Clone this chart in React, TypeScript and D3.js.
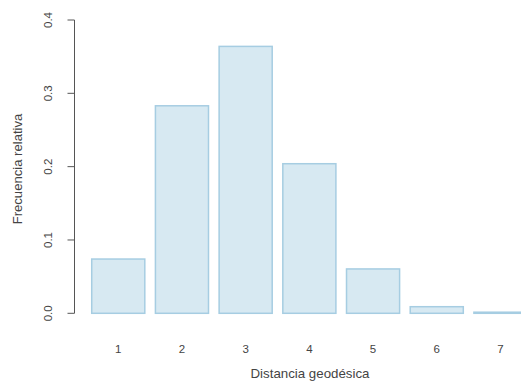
import React from "react";
import * as d3 from "d3";

const categories = ["1", "2", "3", "4", "5", "6", "7"];
const values = [0.074, 0.283, 0.364, 0.204, 0.0605, 0.009, 0.0015];
const yTicks = [0, 0.1, 0.2, 0.3, 0.4];
const yTickLabels = ["0.0", "0.1", "0.2", "0.3", "0.4"];
const xTitle = "Distancia geodésica";
const yTitle = "Frecuencia relativa";

const W = 521;
const H = 382;
const SPACE = 0.2;
const BARW = 1;

export default function App() {
  const x = d3.scaleLinear().domain([0, 8.4]).range([81.1, 527]);
  const y = d3.scaleLinear().domain([0, 0.4]).range([313.3, 20]);
  const font = "'Liberation Sans', Arial, Helvetica, sans-serif";
  const axisX = 74.5;
  return (
    <svg width={W} height={H} style={{ position: "absolute", left: 0, top: 0 }}>
      <rect width={W} height={H} fill="#fff" />
      {values.map((v, i) => {
        const l = x(SPACE + i * (BARW + SPACE));
        const r = x(SPACE + i * (BARW + SPACE) + BARW);
        return (
          <rect
            key={i}
            x={l}
            y={y(v)}
            width={r - l}
            height={y(0) - y(v)}
            fill="#d7e9f2"
            stroke="#a6cde2"
            strokeWidth={1.5}
          />
        );
      })}
      <line x1={axisX} x2={axisX} y1={y(0)} y2={y(0.4)} stroke="#555" strokeWidth={1} />
      {yTicks.map((t, i) => (
        <g key={i}>
          <line x1={axisX - 7} x2={axisX} y1={y(t)} y2={y(t)} stroke="#555" strokeWidth={1} />
          <text
            transform={`translate(52,${y(t)}) rotate(-90)`}
            textAnchor="middle"
            fontFamily={font}
            fontSize={11.5}
            fill="#444"
          >
            {yTickLabels[i]}
          </text>
        </g>
      ))}
      {categories.map((c, i) => (
        <text
          key={c}
          x={x(SPACE + i * (BARW + SPACE) + BARW / 2)}
          y={353}
          textAnchor="middle"
          fontFamily={font}
          fontSize={11.5}
          fill="#444"
        >
          {c}
        </text>
      ))}
      <text x={310} y={378} textAnchor="middle" fontFamily={font} fontSize={13.3} fill="#444">
        {xTitle}
      </text>
      <text
        transform={`translate(21.5,169) rotate(-90)`}
        textAnchor="middle"
        fontFamily={font}
        fontSize={13.1}
        fill="#444"
      >
        {yTitle}
      </text>
    </svg>
  );
}
